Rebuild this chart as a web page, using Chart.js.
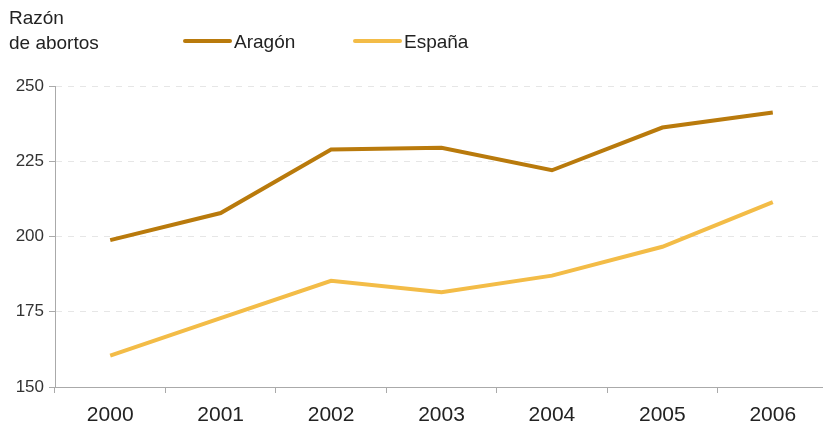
<!DOCTYPE html>
<html>
<head>
<meta charset="utf-8">
<script src="https://cdn.jsdelivr.net/npm/chart.js@4.4.0/dist/chart.umd.min.js"></script>
<style>
  html, body { margin: 0; padding: 0; background: #fff; overflow: hidden; }
  #wrap { width: 828px; height: 427px; position: relative; }
</style>
</head>
<body>
<div id="wrap"><canvas id="chart"></canvas></div>
<script>
const years = ['2000', '2001', '2002', '2003', '2004', '2005', '2006'];
const aragon = [198.8, 207.8, 228.9, 229.5, 222.0, 236.2, 241.2];
const espana = [160.4, 172.9, 185.3, 181.5, 187.0, 196.6, 211.4];

const FONT = '"Liberation Sans", Arial, sans-serif';

// Title and legend drawn at the top
const headerPlugin = {
    id: 'header',
    afterDraw: (chart) => {
        const ctx = chart.ctx;
        ctx.save();
        ctx.fillStyle = '#222';
        ctx.font = '19px ' + FONT;
        ctx.textBaseline = 'middle';
        ctx.textAlign = 'left';
        ctx.fillText('Razón', 9, 19);
        ctx.fillText('de abortos', 9, 44);

        const items = [
            { label: 'Aragón', color: chart.data.datasets[0].borderColor, x: 185 },
            { label: 'España', color: chart.data.datasets[1].borderColor, x: 355 }
        ];
        items.forEach(it => {
            ctx.strokeStyle = it.color;
            ctx.lineWidth = 4;
            ctx.lineCap = 'round';
            ctx.beginPath();
            ctx.moveTo(it.x, 41);
            ctx.lineTo(it.x + 45, 41);
            ctx.stroke();
            ctx.fillText(it.label, it.x + 49, 43);
        });
        ctx.restore();
    }
};

new Chart(document.querySelector('#chart'), {
    type: 'line',
    data: {
        labels: years,
        datasets: [{
            label: 'Aragón',
            data: aragon,
            borderColor: '#b97a0c',
            borderWidth: 4,
            pointRadius: 0,
            tension: 0
        }, {
            label: 'España',
            data: espana,
            borderColor: '#f3bc47',
            borderWidth: 4,
            pointRadius: 0,
            tension: 0
        }]
    },
    options: {
        responsive: true,
        maintainAspectRatio: false,
        animation: false,
        layout: {
            padding: { top: 86, left: 0, right: 0, bottom: 0 }
        },
        plugins: {
            legend: { display: false },
            tooltip: { enabled: false }
        },
        scales: {
            x: {
                offset: true,
                afterFit: (s) => { s.height = 40; },
                grid: {
                    offset: true,
                    drawOnChartArea: false,
                    drawTicks: true,
                    tickLength: 6,
                    tickColor: '#aaaaaa'
                },
                border: { color: '#aaaaaa', width: 1 },
                ticks: {
                    color: '#222',
                    font: { family: FONT, size: 21 },
                    padding: 10
                }
            },
            y: {
                min: 150,
                max: 250,
                afterFit: (s) => { s.width = 55; },
                ticks: {
                    stepSize: 25,
                    color: '#333',
                    font: { family: FONT, size: 17 },
                    padding: 5
                },
                grid: {
                    color: (c) => c.tick && c.tick.value === 150 ? 'rgba(0,0,0,0)' : '#e6e6e6',
                    drawTicks: true,
                    tickLength: 6,
                    tickColor: '#aaaaaa',
                    tickBorderDash: []
                },
                border: { color: '#aaaaaa', width: 1, dash: [6, 6] }
            }
        }
    },
    plugins: [headerPlugin]
});
</script>
</body>
</html>
